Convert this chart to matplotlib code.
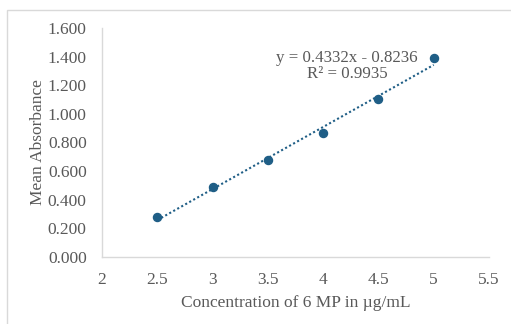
import numpy as np
import matplotlib
matplotlib.use("Agg")
import matplotlib.pyplot as plt
from matplotlib.patches import Rectangle

# calibration data, concentration (ug/mL) vs mean absorbance
conc = [2.5, 3.0, 3.5, 4.0, 4.5, 5.0]
absorbance = [0.276, 0.489, 0.678, 0.866, 1.103, 1.388]
xticks = [2, 2.5, 3, 3.5, 4, 4.5, 5, 5.5]
yticks = [0.0, 0.2, 0.4, 0.6, 0.8, 1.0, 1.2, 1.4, 1.6]
eq_label = "y = 0.4332x - 0.8236\nR² = 0.9935"

plt.rcParams["font.family"] = ["Liberation Serif", "DejaVu Serif"]
grey = "#595959"
blue = "#1F5E86"

fig = plt.figure(figsize=(5.11, 3.24), dpi=100)
fig.patches.append(Rectangle((7 / 511, -0.1), 1.2, 1 - 10 / 324 + 0.1,
                             transform=fig.transFigure, fill=False,
                             edgecolor="#D9D9D9", linewidth=1.0))
ax = fig.add_axes([102 / 511, 1 - 257 / 324, (489 - 102) / 511, (257 - 28) / 324])

ax.plot(conc, absorbance, "o", color=blue, markersize=5.8, zorder=3)

# linear trendline
slope, icpt = np.polyfit(conc, absorbance, 1)
xs = np.array([conc[0], conc[-1]])
ax.plot(xs, slope * xs + icpt, linestyle=(0, (1, 1.2)), color=blue, linewidth=1.5)

ax.set_xlim(2, 5.5)
ax.set_ylim(0, 1.6)
ax.set_xticks(xticks)
ax.set_xticklabels([f"{t:g}" for t in xticks])
ax.set_yticks(yticks)
ax.set_yticklabels([f"{t:.3f}" for t in yticks])
ax.tick_params(length=0, labelsize=12.5, labelcolor=grey)
ax.tick_params(axis="x", pad=11)
ax.tick_params(axis="y", pad=11)

for s in ["top", "right"]:
    ax.spines[s].set_visible(False)
for s in ["left", "bottom"]:
    ax.spines[s].set_color("#D9D9D9")
    ax.spines[s].set_linewidth(1.0)

ax.set_xlabel("Concentration of 6 MP in µg/mL", fontsize=12.5, color=grey, labelpad=5)
ax.set_ylabel("Mean Absorbance", fontsize=12.5, color=grey, labelpad=1)

fig.text(347 / 511, 1 - 66 / 324, eq_label, ha="center", va="center",
         multialignment="center", fontsize=12.2, color=grey, linespacing=1.05)

fig.savefig("out.png", dpi=100)
